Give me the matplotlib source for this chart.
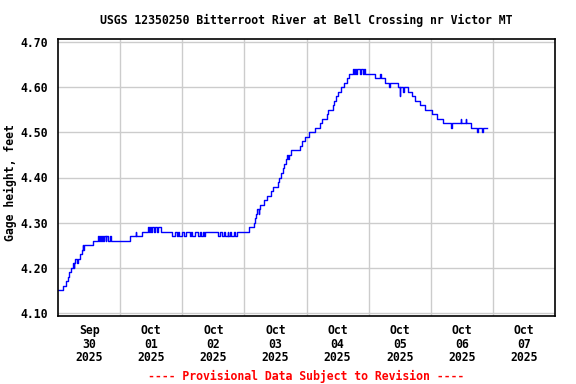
import numpy as np
import matplotlib
matplotlib.use('Agg')
import matplotlib.pyplot as plt

# Gage height steps (hours since Sep 30 00:00, feet)
hours = [0, 2.1, 3.1, 3.7, 4.4, 5.0, 5.7, 6.0, 6.3, 6.7, 7.3, 7.6, 8.5, 9.3, 9.6, 9.8, 10.0,
         13.6, 15.5, 15.8, 16.2, 16.6, 16.9, 17.5, 17.8, 18.4, 18.7, 19.3, 20.0, 20.4,
         27.8, 30.0, 30.3, 32.5, 34.7, 35.0, 35.4, 35.8, 36.3, 37.0, 37.6, 38.3, 38.8, 39.6,
         43.9, 45.2, 45.8, 46.3, 46.8, 47.8, 48.7, 49.3, 51.0, 51.4, 51.8, 53.0, 54.2, 54.8,
         55.2, 56.0, 56.4, 56.8, 62.0, 62.5, 63.3, 64.0, 64.4, 65.5, 65.8, 66.5, 66.8, 67.8,
         68.2, 69.0, 73.9, 75.7, 76.1, 76.5, 77.0, 77.5, 77.8, 78.0, 79.4, 80.8, 82.4, 83.0,
         84.9, 85.5, 86.1, 86.8, 87.4, 88.1, 88.5, 88.8, 89.1, 89.9, 93.5, 94.2, 95.5, 96.8,
         99.1, 101.3, 101.9, 103.8, 104.4, 106.2, 106.8, 107.4, 108.3, 109.3, 110.3, 111.8,
         112.6, 113.9, 114.3, 114.7, 115.3, 115.6, 116.5, 116.9, 117.8, 118.1, 118.6, 122.5,
         124.3, 124.6, 126.4, 128.0, 128.3, 131.4, 132.0, 132.3, 133.3, 133.6, 135.2, 136.7,
         138.0, 139.9, 141.8, 144.4, 146.3, 148.9, 152.0, 152.4, 155.5, 155.8, 157.5, 157.8,
         159.5, 161.9, 162.2, 163.7, 164.0, 165.9]
gage = [4.15, 4.16, 4.17, 4.18, 4.19, 4.20, 4.21, 4.20, 4.21, 4.22, 4.21, 4.22, 4.23, 4.24, 4.25, 4.24, 4.25,
        4.26, 4.27, 4.26, 4.27, 4.26, 4.27, 4.26, 4.27, 4.26, 4.27, 4.26, 4.27, 4.26,
        4.27, 4.28, 4.27, 4.28, 4.29, 4.28, 4.29, 4.28, 4.29, 4.28, 4.29, 4.28, 4.29, 4.28,
        4.27, 4.28, 4.27, 4.28, 4.27, 4.28, 4.27, 4.28, 4.27, 4.28, 4.27, 4.28, 4.27, 4.28,
        4.27, 4.28, 4.27, 4.28, 4.27, 4.28, 4.27, 4.28, 4.27, 4.28, 4.27, 4.28, 4.27, 4.28,
        4.27, 4.28, 4.29, 4.30, 4.31, 4.32, 4.33, 4.32, 4.33, 4.34, 4.35, 4.36, 4.37, 4.38,
        4.39, 4.40, 4.41, 4.42, 4.43, 4.44, 4.45, 4.44, 4.45, 4.46, 4.47, 4.48, 4.49, 4.50,
        4.51, 4.52, 4.53, 4.54, 4.55, 4.56, 4.57, 4.58, 4.59, 4.60, 4.61, 4.62,
        4.63, 4.64, 4.63, 4.64, 4.63, 4.64, 4.63, 4.64, 4.63, 4.64, 4.63, 4.62,
        4.63, 4.62, 4.61, 4.60, 4.61, 4.60, 4.58, 4.60, 4.59, 4.60, 4.59, 4.58,
        4.57, 4.56, 4.55, 4.54, 4.53, 4.52, 4.51, 4.52, 4.53, 4.52, 4.53, 4.52,
        4.51, 4.50, 4.51, 4.50, 4.51, 4.51]

day_labels = ['Sep\n30\n2025', 'Oct\n01\n2025', 'Oct\n02\n2025', 'Oct\n03\n2025',
              'Oct\n04\n2025', 'Oct\n05\n2025', 'Oct\n06\n2025', 'Oct\n07\n2025']
yticks = [4.10, 4.20, 4.30, 4.40, 4.50, 4.60, 4.70]

plt.rcParams['font.family'] = 'DejaVu Sans Mono'
plt.rcParams['font.weight'] = 'bold'
fs = 8.3

fig = plt.figure(figsize=(5.76, 3.84), dpi=100)
ax = fig.add_axes([58/576, 68/384, 497/576, 277/384])

days = np.array(hours) / 24.0
ax.plot(days, gage, drawstyle='steps-post', color='#0000ff', lw=1.0)

ax.set_xlim(0, 8)
ax.set_ylim(4.0934, 4.7066)

ax.set_xticks(np.arange(1, 8), minor=False)
ax.set_xticklabels([])
ax.set_xticks(np.arange(8) + 0.5, minor=True)
ax.set_xticklabels(day_labels, minor=True, fontsize=fs, fontweight='bold', linespacing=1.05)
ax.tick_params(axis='x', which='both', length=0, pad=6)

ax.set_yticks(yticks)
ax.set_yticklabels(['%.2f' % v for v in yticks], fontsize=fs, fontweight='bold')
ax.tick_params(axis='y', length=0, pad=7)

ax.grid(True, which='major', color='#cccccc', lw=1.0)
ax.set_axisbelow(True)
for s in ax.spines.values():
    s.set_linewidth(1.2)
    s.set_color('black')

ax.set_ylabel('Gage height, feet', fontsize=fs, fontweight='bold')
ax.yaxis.set_label_coords(-0.0825, 0.48)
fig.text(306/576, 1 - 20/384, 'USGS 12350250 Bitterroot River at Bell Crossing nr Victor MT',
         ha='center', va='center', fontsize=fs, fontweight='bold')
fig.text(306/576, 1 - 376/384, '---- Provisional Data Subject to Revision ----',
         ha='center', va='center', fontsize=fs, fontweight='bold', color='red')

fig.savefig('out.png', dpi=100)
